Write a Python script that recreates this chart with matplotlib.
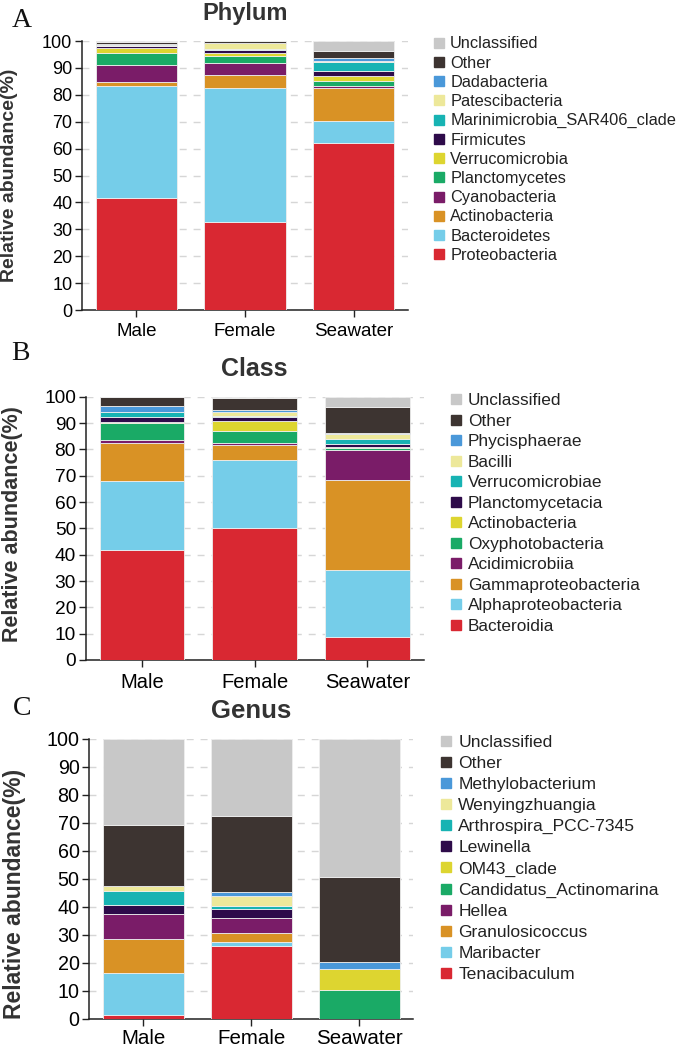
import matplotlib
matplotlib.use('Agg')
import matplotlib.pyplot as plt
from matplotlib.lines import Line2D
import numpy as np

plt.rcParams['font.family'] = ['Liberation Sans', 'DejaVu Sans']

samples = ['Male', 'Female', 'Seawater']

# stacking order: bottom -> top
palette = ['#d92832', '#75cde9', '#d99225', '#7a1c68', '#1aaa66', '#ddd530',
           '#2e0b4a', '#17b3b3', '#ede89a', '#4a98d9', '#3d3431', '#c8c8c8']

phylum_taxa = ['Proteobacteria', 'Bacteroidetes', 'Actinobacteria', 'Cyanobacteria',
               'Planctomycetes', 'Verrucomicrobia', 'Firmicutes',
               'Marinimicrobia_SAR406_clade', 'Patescibacteria', 'Dadabacteria',
               'Other', 'Unclassified']
phylum_male = [41.5, 41.6, 1.6, 6.4, 4.5, 1.9, 0.5, 0.1, 0.5, 0.1, 1.1, 0.2]
phylum_female = [32.6, 50.0, 4.9, 4.5, 2.6, 1.0, 1.2, 0.3, 2.1, 0.1, 0.6, 0.1]
phylum_seawater = [61.9, 8.2, 12.5, 0.6, 1.8, 1.9, 2.1, 3.1, 0.3, 1.1, 2.9, 3.6]

class_taxa = ['Bacteroidia', 'Alphaproteobacteria', 'Gammaproteobacteria', 'Acidimicrobiia',
              'Oxyphotobacteria', 'Actinobacteria', 'Planctomycetacia', 'Verrucomicrobiae',
              'Bacilli', 'Phycisphaerae', 'Other', 'Unclassified']
class_male = [41.8, 26.2, 14.5, 1.0, 6.6, 0.2, 1.9, 1.9, 0.2, 2.0, 3.4, 0.3]
class_female = [50.2, 25.7, 5.7, 0.7, 4.5, 4.0, 1.4, 0.6, 1.4, 0.9, 4.4, 0.5]
class_seawater = [8.7, 25.5, 34.2, 11.4, 0.6, 0.4, 1.4, 1.8, 2.0, 0.1, 10.1, 3.8]

genus_taxa = ['Tenacibaculum', 'Maribacter', 'Granulosicoccus', 'Hellea',
              'Candidatus_Actinomarina', 'OM43_clade', 'Lewinella', 'Arthrospira_PCC-7345',
              'Wenyingzhuangia', 'Methylobacterium', 'Other', 'Unclassified']
genus_male = [1.5, 14.9, 12.2, 8.9, 0.0, 0.0, 3.3, 5.0, 1.6, 0.2, 21.6, 30.8]
genus_female = [26.0, 1.6, 3.0, 5.5, 0.0, 0.0, 3.1, 1.0, 3.6, 1.4, 27.2, 27.6]
genus_seawater = [0.0, 0.0, 0.0, 0.0, 10.2, 7.8, 0.0, 0.0, 0.0, 2.4, 30.2, 49.4]

W, H = 685, 1048
fig = plt.figure(figsize=(W / 100, H / 100), dpi=100)


def fx(px):
    return px / W


def fy(py):
    return 1 - py / H


panels = [
    dict(letter='A', title='Phylum', taxa=phylum_taxa,
         data=[phylum_male, phylum_female, phylum_seawater],
         ax=(82, 408, 41, 310), fs=dict(yt=13, xt=13.5, yl=14, ti=17, lg=11.8),
         ylx=10, yly=0.5, title_y=20, letter_xy=(12, 27), xpad=4,
         leg=(433, 45), legspace=19.2),
    dict(letter='B', title='Class', taxa=class_taxa,
         data=[class_male, class_female, class_seawater],
         ax=(85.7, 423.8, 396.7, 660), fs=dict(yt=13.8, xt=14.5, yl=15.5, ti=18, lg=12.4),
         ylx=12.5, yly=0.515, title_y=376, letter_xy=(11, 360), xpad=4,
         leg=(450, 401.7), legspace=20.45),
    dict(letter='C', title='Genus', taxa=genus_taxa,
         data=[genus_male, genus_female, genus_seawater],
         ax=(89.3, 413, 739, 1019), fs=dict(yt=14.2, xt=14.8, yl=16.5, ti=18.5, lg=12.6),
         ylx=14, yly=0.445, title_y=718, letter_xy=(13, 715), xpad=2,
         leg=(440, 743.3), legspace=20.8),
]

for p in panels:
    l, r, t, b = p['ax']
    ax = fig.add_axes([fx(l), fy(b), fx(r) - fx(l), fy(t) - fy(b)])
    x = np.arange(len(samples))
    bottom = np.zeros(len(samples))
    for i, taxon in enumerate(p['taxa']):
        vals = np.array([d[i] for d in p['data']])
        ax.bar(x, vals, 0.75, bottom=bottom, color=palette[i], edgecolor='#eeeeee',
               linewidth=0.6, zorder=3, label=taxon)
        bottom += vals
    ax.set_xlim(-0.5, 2.5)
    ax.set_ylim(0, 100)
    ax.set_yticks(np.arange(0, 101, 10))
    ax.set_xticks(x)
    ax.set_xticklabels(samples)
    ax.yaxis.grid(True, linestyle=(0, (5, 5)), color='#d6d6d6', linewidth=1.0, zorder=0)
    ax.set_axisbelow(True)
    for s in ['top', 'right']:
        ax.spines[s].set_visible(False)
    for s in ['left', 'bottom']:
        ax.spines[s].set_color('#222222')
        ax.spines[s].set_linewidth(1.1)
    ax.tick_params(axis='y', direction='out', length=5, width=1.0, color='#222222',
                   labelsize=p['fs']['yt'], pad=2)
    ax.tick_params(axis='x', direction='out', length=5, width=1.0, color='#222222',
                   labelsize=p['fs']['xt'], pad=p['xpad'])
    ax.set_ylabel('Relative abundance(%)', fontsize=p['fs']['yl'], fontweight='bold',
                  color='#333333')
    ax.yaxis.set_label_coords((p['ylx'] - l) / (r - l), p['yly'])
    ax.yaxis.label.set_va('center')

    fig.text(fx((l + r) / 2), fy(p['title_y']), p['title'], ha='center', va='baseline',
             fontsize=p['fs']['ti'], fontweight='bold', color='#333333')
    fig.text(fx(p['letter_xy'][0]), fy(p['letter_xy'][1]), p['letter'], ha='left',
             va='baseline', fontsize=20, family='Liberation Serif', color='#111111')

    handles = [Line2D([0], [0], marker='s', linestyle='none', markersize=7.5,
                      markerfacecolor=palette[i], markeredgecolor=palette[i])
               for i in range(len(p['taxa']))][::-1]
    labels = p['taxa'][::-1]
    fs_px = p['fs']['lg'] * 100 / 72
    base = 15.0
    spacing = (p['legspace'] - base) / fs_px
    top_y = p['leg'][1] - base / 2 - 1
    fig.legend(handles, labels, loc='upper left',
               bbox_to_anchor=(fx(p['leg'][0]), fy(top_y)),
               frameon=False, fontsize=p['fs']['lg'], handlelength=0.7,
               handletextpad=0.35, labelspacing=spacing,
               borderpad=0, borderaxespad=0, labelcolor='#222222')

fig.savefig('out.png', dpi=100)
